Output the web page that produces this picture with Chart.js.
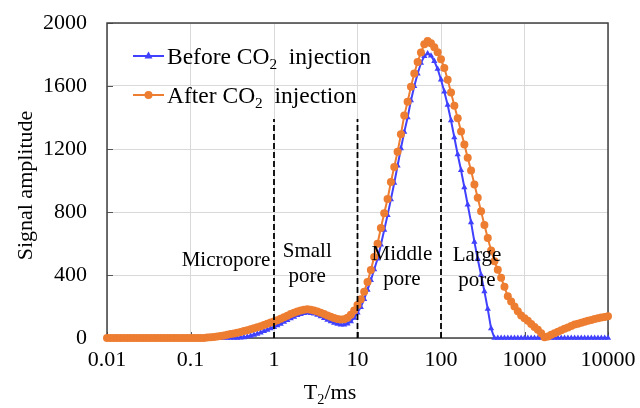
<!DOCTYPE html>
<html>
<head>
<meta charset="utf-8">
<script src="https://cdn.jsdelivr.net/npm/chart.js@4.4.1/dist/chart.umd.min.js"></script>
<style>
  html, body { margin: 0; padding: 0; background: #fff; }
</style>
</head>
<body>
<canvas id="t2Chart" width="640" height="408"></canvas>
<script>
// T2 relaxation times (ms), 25 points per decade
const t2Values = [
  0.01, 0.01096, 0.01202, 0.01318, 0.01445, 0.01585, 0.01738, 0.01905, 0.02089, 0.02291, 0.02512, 0.02754, 0.0302, 0.03311, 0.03631, 0.03981, 0.04365, 0.04786, 0.05248, 0.05754, 0.0631, 0.06918, 0.07586, 0.08318, 0.0912,
  0.1, 0.1096, 0.1202, 0.1318, 0.1445, 0.1585, 0.1738, 0.1905, 0.2089, 0.2291, 0.2512, 0.2754, 0.302, 0.3311, 0.3631, 0.3981, 0.4365, 0.4786, 0.5248, 0.5754, 0.631, 0.6918, 0.7586, 0.8318, 0.912,
  1, 1.096, 1.202, 1.318, 1.445, 1.585, 1.738, 1.905, 2.089, 2.291, 2.512, 2.754, 3.02, 3.311, 3.631, 3.981, 4.365, 4.786, 5.248, 5.754, 6.31, 6.918, 7.586, 8.318, 9.12,
  10, 10.96, 12.02, 13.18, 14.45, 15.85, 17.38, 19.05, 20.89, 22.91, 25.12, 27.54, 30.2, 33.11, 36.31, 39.81, 43.65, 47.86, 52.48, 57.54, 63.1, 69.18, 75.86, 83.18, 91.2,
  100, 109.6, 120.2, 131.8, 144.5, 158.5, 173.8, 190.5, 208.9, 229.1, 251.2, 275.4, 302, 331.1, 363.1, 398.1, 436.5, 478.6, 524.8, 575.4, 631, 691.8, 758.6, 831.8, 912,
  1000, 1096, 1202, 1318, 1445, 1585, 1738, 1905, 2089, 2291, 2512, 2754, 3020, 3311, 3631, 3981, 4365, 4786, 5248, 5754, 6310, 6918, 7586, 8318, 9120,
  10000
];

const beforeCO2 = [
  0, 0, 0, 0, 0, 0, 0, 0, 0, 0, 0, 0, 0, 0, 0, 0, 0, 0, 0, 0, 0, 0, 0, 0, 0,
  0, 0, 0, 0, 0, 0, 0, 0, 0, 0, 0, 0, 0, 0, 0, 2, 4, 8, 13, 20, 26, 34, 43, 51, 60,
  68, 79, 90, 102, 113, 124, 134, 144, 151, 157, 160, 158, 154, 147, 137, 126, 115, 105, 96, 89, 84, 85, 91, 105, 128,
  160, 196, 247, 305, 367, 435, 503, 592, 686, 780, 880, 984, 1094, 1204, 1308, 1400, 1508, 1598, 1678, 1746, 1790, 1806, 1792, 1758, 1708,
  1640, 1564, 1479, 1381, 1273, 1165, 1065, 956, 846, 734, 610, 502, 400, 296, 184, 60, 0, 0, 0, 0, 0, 0, 0, 0, 0,
  0, 0, 0, 0, 0, 0, 0, 0, 0, 0, 0, 0, 0, 0, 0, 0, 0, 0, 0, 0, 0, 0, 0, 0, 0,
  0
];

const afterCO2 = [
  0, 0, 0, 0, 0, 0, 0, 0, 0, 0, 0, 0, 0, 0, 0, 0, 0, 0, 0, 0, 0, 0, 0, 0, 0,
  0, 0, 0, 0, 0, 3, 5, 7, 10, 13, 16, 20, 25, 29, 34, 38, 44, 49, 55, 62, 68, 75, 83, 91, 98,
  104, 113, 122, 132, 142, 152, 161, 168, 175, 180, 182, 179, 174, 168, 161, 152, 143, 135, 127, 121, 117, 119, 129, 147, 174,
  210, 246, 294, 356, 431, 515, 599, 698, 792, 882, 990, 1086, 1182, 1294, 1412, 1500, 1596, 1680, 1752, 1813, 1865, 1885, 1872, 1846, 1814,
  1770, 1714, 1640, 1558, 1475, 1395, 1311, 1228, 1145, 1063, 975, 891, 804, 718, 635, 555, 487, 434, 382, 325, 265, 231, 200, 170, 143,
  125, 109, 89, 70, 52, 30, 5, 10, 20, 30, 40, 49, 58, 67, 76, 85, 91, 97, 103, 109, 115, 120, 125, 130, 134,
  138
];

const xTicks = [0.01, 0.1, 1, 10, 100, 1000, 10000];
const yTicks = [0, 400, 800, 1200, 1600, 2000];

// pore-class boundaries (ms) and how high the dashed lines reach
const poreBounds = [1, 10, 100];
const poreBoundTop = 1390;
const poreNames = [['Micropore'], ['Small', 'pore'], ['Middle', 'pore'], ['Large', 'pore']];
const poreNameAt = [[0.266, 495], [2.5, 470], [34, 454], [270, 444]];

const BLUE = '#4040FF';
const ORANGE = '#ED7D31';
const SERIF = '"Liberation Serif", "Times New Roman", serif';

function drawParts(ctx, parts, x, y, size) {
  let cx = x;
  parts.forEach(([t, sub]) => {
    ctx.font = (sub ? size * 0.65 : size) + 'px ' + SERIF;
    ctx.fillText(t, cx, sub ? y + size * 0.22 : y);
    cx += ctx.measureText(t).width;
  });
  return cx;
}

function partsWidth(ctx, parts, size) {
  let w = 0;
  parts.forEach(([t, sub]) => {
    ctx.font = (sub ? size * 0.65 : size) + 'px ' + SERIF;
    w += ctx.measureText(t).width;
  });
  return w;
}

const overlay = {
  id: 'overlay',
  beforeDatasetsDraw(chart) {
    const { ctx, chartArea: a, scales: { x, y } } = chart;
    ctx.save();
    ctx.strokeStyle = '#555';
    ctx.lineWidth = 1;
    ctx.beginPath();
    yTicks.forEach(v => {
      const py = Math.round(y.getPixelForValue(v)) + 0.5;
      ctx.moveTo(a.left, py); ctx.lineTo(a.left + 6, py);
    });
    xTicks.forEach(v => {
      const px = Math.round(x.getPixelForValue(v)) + 0.5;
      ctx.moveTo(px, a.bottom); ctx.lineTo(px, a.bottom - 6);
    });
    ctx.stroke();
    ctx.strokeStyle = '#404040';
    ctx.lineWidth = 1.5;
    ctx.strokeRect(a.left, a.top, a.right - a.left, a.bottom - a.top);
    ctx.restore();
  },
  afterDatasetsDraw(chart) {
    const { ctx, scales: { x, y } } = chart;
    ctx.save();
    ctx.strokeStyle = '#000';
    ctx.lineWidth = 1.8;
    ctx.setLineDash([6, 3]);
    poreBounds.forEach(b => {
      const px = x.getPixelForValue(b);
      ctx.beginPath();
      ctx.moveTo(px, y.getPixelForValue(0));
      ctx.lineTo(px, y.getPixelForValue(poreBoundTop));
      ctx.stroke();
    });
    ctx.restore();
  },
  afterDraw(chart) {
    const { ctx, chartArea: a, scales: { x, y } } = chart;
    ctx.save();
    ctx.fillStyle = '#000';
    ctx.textBaseline = 'middle';

    // pore class names
    ctx.font = '21px ' + SERIF;
    ctx.textAlign = 'center';
    poreNames.forEach((lines, i) => {
      const px = x.getPixelForValue(poreNameAt[i][0]);
      const py = y.getPixelForValue(poreNameAt[i][1]);
      const top = py - (lines.length - 1) * 12.5;
      lines.forEach((l, j) => ctx.fillText(l, px, top + j * 25));
    });

    // legend
    ctx.textAlign = 'left';
    ctx.textBaseline = 'alphabetic';
    const rows = [
      { color: BLUE, marker: 'triangle', y: 56, parts: [['Before CO', false], ['2', true], ['  injection', false]] },
      { color: ORANGE, marker: 'circle', y: 95, parts: [['After CO', false], ['2', true], ['  injection', false]] }
    ];
    rows.forEach(r => {
      ctx.strokeStyle = r.color;
      ctx.fillStyle = r.color;
      ctx.lineWidth = 2;
      ctx.beginPath();
      ctx.moveTo(133, r.y); ctx.lineTo(164, r.y);
      ctx.stroke();
      ctx.beginPath();
      if (r.marker === 'circle') {
        ctx.arc(148.5, r.y, 4, 0, Math.PI * 2);
      } else {
        ctx.moveTo(148.5, r.y - 4.5); ctx.lineTo(152.5, r.y + 2.5); ctx.lineTo(144.5, r.y + 2.5); ctx.closePath();
      }
      ctx.fill();
      ctx.fillStyle = '#000';
      drawParts(ctx, r.parts, 167, r.y + 7.5, 23.5);
    });

    // axis titles
    const xt = [['T', false], ['2', true], ['/ms', false]];
    const w = partsWidth(ctx, xt, 22);
    drawParts(ctx, xt, 330 - w / 2, 399, 22);

    ctx.translate(26, (a.top + a.bottom) / 2 + 5);
    ctx.rotate(-Math.PI / 2);
    ctx.font = '22px ' + SERIF;
    ctx.textAlign = 'center';
    ctx.textBaseline = 'middle';
    ctx.fillText('Signal amplitude', 0, 0);
    ctx.restore();
  }
};

const ctx = document.getElementById('t2Chart').getContext('2d');
new Chart(ctx, {
  type: 'line',
  data: {
    datasets: [
      {
        label: 'After CO2 injection',
        data: t2Values.map((t, i) => ({ x: t, y: afterCO2[i] })),
        borderColor: ORANGE,
        backgroundColor: ORANGE,
        pointBackgroundColor: ORANGE,
        pointBorderColor: ORANGE,
        pointStyle: 'circle',
        pointRadius: 4,
        pointBorderWidth: 0,
        borderWidth: 2,
        tension: 0,
        clip: false,
        order: 0
      },
      {
        label: 'Before CO2 injection',
        data: t2Values.map((t, i) => ({ x: t, y: beforeCO2[i] })),
        borderColor: BLUE,
        backgroundColor: BLUE,
        pointBackgroundColor: BLUE,
        pointBorderColor: BLUE,
        pointStyle: 'triangle',
        pointRadius: 3.6,
        pointBorderWidth: 0,
        borderWidth: 2,
        tension: 0,
        clip: false,
        order: 1
      }
    ]
  },
  options: {
    responsive: false,
    animation: false,
    layout: { padding: { left: 0, right: 32, top: 23, bottom: 0 } },
    plugins: {
      legend: { display: false },
      tooltip: { enabled: false }
    },
    scales: {
      x: {
        type: 'logarithmic',
        min: 0.01,
        max: 10000,
        afterBuildTicks: s => { s.ticks = xTicks.map(v => ({ value: v })); },
        afterFit: s => { s.height = 70; s.paddingLeft = 0; s.paddingRight = 0; },
        grid: { color: '#d9d9d9', lineWidth: 1, drawTicks: false },
        border: { display: false },
        ticks: {
          color: '#000',
          font: { family: SERIF, size: 22 },
          padding: 9,
          maxRotation: 0,
          autoSkip: false,
          callback: v => String(v)
        }
      },
      y: {
        min: 0,
        max: 2000,
        afterBuildTicks: s => { s.ticks = yTicks.map(v => ({ value: v })); },
        afterFit: s => { s.width = 107; s.paddingTop = 0; s.paddingBottom = 0; },
        grid: { color: '#d9d9d9', lineWidth: 1, drawTicks: false },
        border: { display: false },
        ticks: {
          color: '#000',
          font: { family: SERIF, size: 22 },
          padding: 20,
          callback: v => String(v)
        }
      }
    }
  },
  plugins: [overlay]
});
</script>
</body>
</html>
